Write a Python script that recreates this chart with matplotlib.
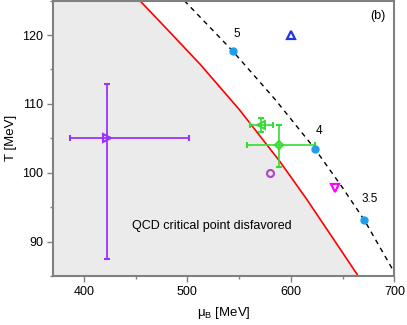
import numpy as np
import matplotlib.pyplot as plt
from matplotlib.ticker import MultipleLocator

plt.rcParams['font.family'] = ['Liberation Sans', 'DejaVu Sans']

# red boundary of the disfavored region (muB, T)
red_mu = [454, 480, 512, 550, 589, 615, 640.5, 665]
red_T = [125, 120.9, 115.8, 109.2, 101.7, 96.2, 90.5, 85]

# dashed black curve through the filled blue points
dash_mu = [497, 520, 543.6, 585, 623, 650, 671, 700]
dash_T = [125, 121.4, 117.7, 110.6, 103.5, 97.8, 93.1, 85.5]

# filled blue points with labels
blue_mu = [543.6, 623, 671]
blue_T = [117.7, 103.5, 93.1]
blue_lab = ['5', '4', '3.5']

# single points with error bars
vio_mu, vio_T = 421.8, 105.0
vio_xerr = [[35.4], [79.9]]
vio_yerr = [[17.6], [7.9]]

gtri_mu, gtri_T = 571, 106.9
gtri_xerr = [[10.7], [11.3]]
gtri_yerr = [[1.0], [1.0]]

gdia_mu, gdia_T = 588.7, 104.0
gdia_xerr = [[30.7], [34.3]]
gdia_yerr = [[3.1], [3.0]]

# other open markers
btri_mu, btri_T = 600, 120
pcirc_mu, pcirc_T = 579.5, 99.9
mtri_mu, mtri_T = 642.5, 97.8

fig = plt.figure(figsize=(4.07, 3.25), dpi=100)
ax = fig.add_axes([0.130, 0.151, 0.839, 0.847])

xmin, xmax, ymin, ymax = 370, 700, 85, 125

ax.fill_betweenx(red_T, xmin, red_mu, color='#ebebeb', lw=0, zorder=0)
ax.plot(red_mu, red_T, color='#ff0000', lw=1.2, zorder=2)
ax.plot(dash_mu, dash_T, color='black', lw=1.0, dashes=(3.5, 3.2), zorder=2)

ax.plot(blue_mu, blue_T, 'o', color='#1a9ff0', ms=5, zorder=4)
offs = [(3, 8), (3, 8), (4, 11)]
for m, t, s, (dx, dy) in zip(blue_mu, blue_T, blue_lab, offs):
    ax.annotate(s, (m, t), xytext=(dx, dy), textcoords='offset points',
                fontsize=8.5, ha='center', va='bottom')

ax.errorbar(vio_mu, vio_T, xerr=vio_xerr, yerr=vio_yerr, fmt='>',
            color='#9933ff', mfc='none', mew=1.5, ms=6, lw=1.3,
            capsize=2.5, capthick=1.3, zorder=3)
ax.errorbar(gtri_mu, gtri_T, xerr=gtri_xerr, yerr=gtri_yerr, fmt='<',
            color='#33dd33', mfc='none', mew=1.5, ms=5.5, lw=1.2,
            capsize=2.5, capthick=1.2, zorder=3)
ax.errorbar(gdia_mu, gdia_T, xerr=gdia_xerr, yerr=gdia_yerr, fmt='D',
            color='#33dd33', mfc='none', mew=1.5, ms=4.5, lw=1.2,
            capsize=2.5, capthick=1.2, zorder=3)

ax.plot(btri_mu, btri_T, '^', color='#2233ee', mfc='none', mew=1.6, ms=5.5)
ax.plot(pcirc_mu, pcirc_T, 'o', color='#b048c8', mfc='none', mew=1.6, ms=5)
ax.plot(mtri_mu, mtri_T, 'v', color='#ff00ff', mfc='none', mew=1.6, ms=6)

ax.text(524, 92.2, 'QCD critical point disfavored', fontsize=9,
        ha='center', va='center')
ax.text(0.975, 0.965, '(b)', transform=ax.transAxes, fontsize=9,
        ha='right', va='top')

ax.set_xlim(xmin, xmax)
ax.set_ylim(ymin, ymax)
ax.xaxis.set_major_locator(MultipleLocator(100))
ax.xaxis.set_minor_locator(MultipleLocator(50))
ax.yaxis.set_major_locator(MultipleLocator(10))
ax.yaxis.set_minor_locator(MultipleLocator(5))

for s in ax.spines.values():
    s.set_color('#808080')
    s.set_linewidth(1.5)
ax.tick_params(which='major', length=4, width=1, color='#808080',
               labelsize=9, pad=3)
ax.tick_params(which='minor', length=2, width=1, color='#808080')

ax.set_xlabel(r'$\mathregular{\mu_B}$ [MeV]', fontsize=9.5, labelpad=5)
ax.set_ylabel('T [MeV]', fontsize=9.5, labelpad=4)

fig.savefig('out.png', dpi=100)
